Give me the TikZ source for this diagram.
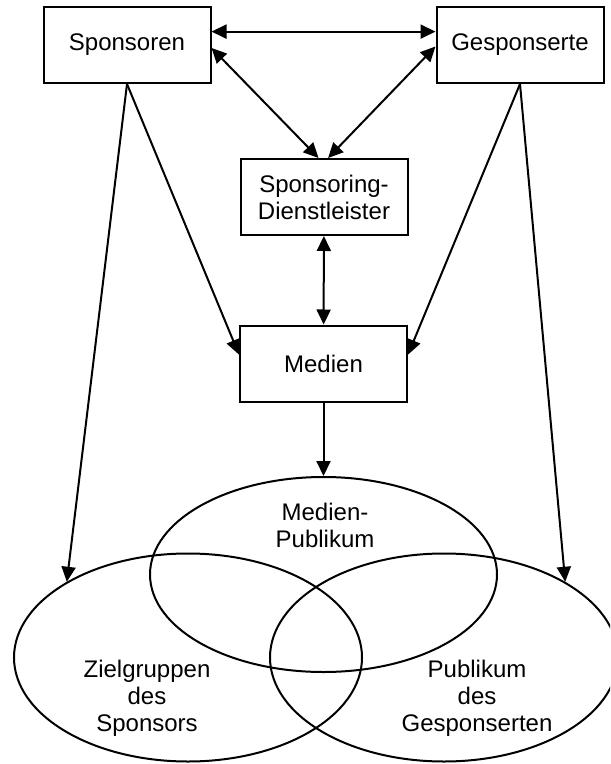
\documentclass[tikz,border=0pt]{standalone}
\usepackage{fontspec}
\setmainfont{Liberation Sans}
\usetikzlibrary{arrows.meta,shapes.geometric}

\begin{document}
\begin{tikzpicture}[x=0.5pt,y=-0.5pt,line width=1pt,
  >={Triangle[length=7.5pt,width=7pt]},
  every node/.style={font=\fontsize{12}{13.5}\selectfont,align=center},
  box/.style={draw,rectangle,minimum width=83.5pt,minimum height=38pt,inner sep=0pt},
  menge/.style={draw,ellipse,inner sep=0pt}]
\useasboundingbox (0,0) rectangle (610,764);
\clip (0,0) rectangle (610,764);
% boxes
\node[box] (spons) at (127,45) {Sponsoren};
\node[box] (gesp) at (520,45) {Gesponserte};
\node[box] (sd) at (324,197) {Sponsoring-\\Dienstleister};
\node[box] (medien) at (323.5,363.5) {Medien};
% audiences
\node[menge,minimum width=173.5pt,minimum height=97.5pt] (mp) at (323.5,574.5) {};
\node[menge,minimum width=174pt,minimum height=104pt] (zl) at (188,657.5) {};
\node[menge,minimum width=174pt,minimum height=104pt] (zr) at (444,657.5) {};
\node (mptxt) at (325,525) {Medien-\\Publikum};
\node (zltxt) at (147,698) {Zielgruppen\\des\\Sponsors};
\node (zrtxt) at (477,698) {Publikum\\des\\Gesponserten};
% arrows
\draw[<->] (spons.9) -- (gesp.171);
\draw[<->] (spons.-2) -- (sd.98);
\draw[<->] (gesp.181) -- (sd.84);
\draw[<->] (sd) -- (medien);
\draw[->] (spons.south) -- (medien.174);
\draw[->] (spons.south) -- (zl.148);
\draw[->] (gesp.south) -- (medien.6);
\draw[->] (gesp.south) -- (zr.32);
\draw[->] (medien) -- (mp);
\end{tikzpicture}
\end{document}
